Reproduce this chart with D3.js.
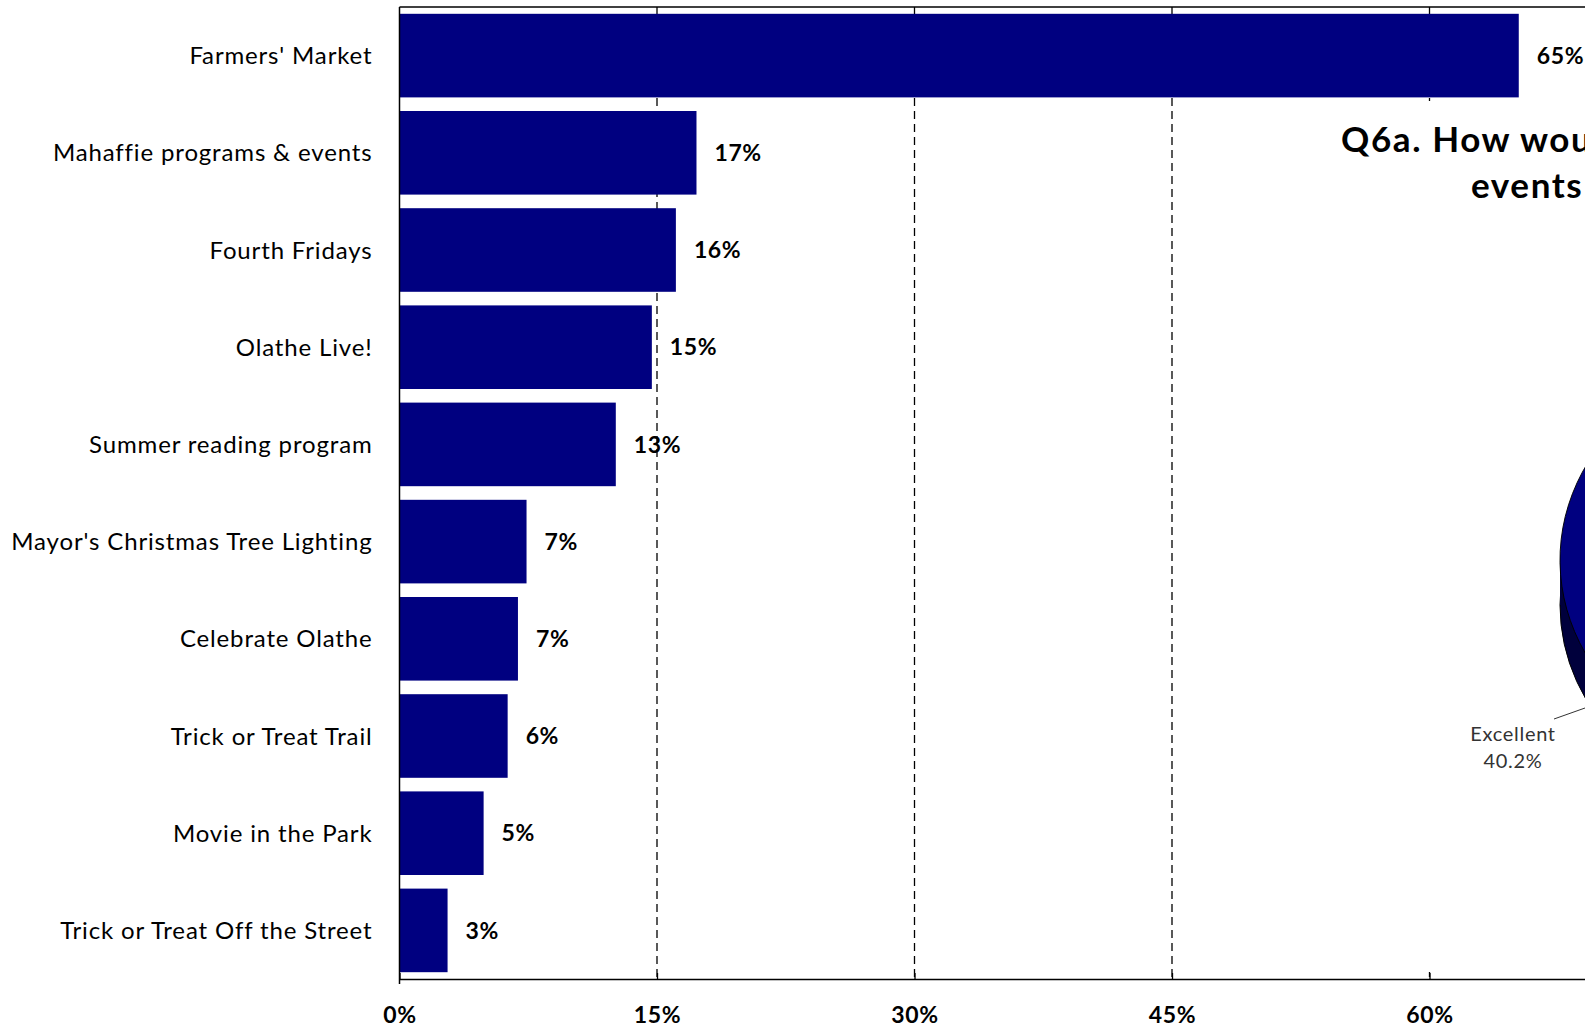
<!DOCTYPE html>
<html>
<head>
<meta charset="utf-8">
<script src="https://cdn.jsdelivr.net/npm/d3@7"></script>
<style>
  body { margin: 0; background: #fff; }
  svg { display: block; font-family: Lato, "Open Sans", sans-serif; }
</style>
</head>
<body>
<div class="chart"></div>
<script>
var svgWidth = 1585;
var svgHeight = 1028;

// Data
var categories = ["Farmers' Market", "Mahaffie programs & events", "Fourth Fridays", "Olathe Live!",
  "Summer reading program", "Mayor's Christmas Tree Lighting", "Celebrate Olathe",
  "Trick or Treat Trail", "Movie in the Park", "Trick or Treat Off the Street"];
var values = [65.2, 17.3, 16.1, 14.7, 12.6, 7.4, 6.9, 6.3, 4.9, 2.8];
var tickValues = [0, 15, 30, 45, 60];
var gridValues = [15, 30, 45, 60];

// the overlapping pie chart (only its left edge shows)
var pieLabels = ["Excellent"];
var pieValues = [40.2];
var titleLines = ["Q6a. How would", "events"];

var margin = { top: 7, left: 399.5 };
var plotHeight = 972;
var plotWidth = 1287.5;

var svg = d3
  .select(".chart")
  .append("svg")
  .attr("width", svgWidth)
  .attr("height", svgHeight);

var chart = svg.append("g")
  .attr("transform", "translate(" + margin.left + "," + margin.top + ")");

var xScale = d3.scaleLinear().domain([0, 75]).range([0, plotWidth]);
var yScale = d3.scaleBand()
  .domain(categories)
  .range([0, plotHeight])
  .paddingInner(0.14)
  .paddingOuter(0.07);

// dashed grid lines
chart.selectAll(".grid")
  .data(gridValues)
  .enter()
  .append("line")
  .attr("class", "grid")
  .attr("x1", function(d) { return xScale(d); })
  .attr("x2", function(d) { return xScale(d); })
  .attr("y1", 0)
  .attr("y2", plotHeight)
  .attr("stroke", "#000")
  .attr("stroke-width", 1.3)
  .attr("stroke-dasharray", "8,5");

// bars
chart.selectAll(".bar")
  .data(values)
  .enter()
  .append("rect")
  .attr("class", "bar")
  .attr("x", 0)
  .attr("y", function(d, i) { return yScale(categories[i]); })
  .attr("width", function(d) { return xScale(d); })
  .attr("height", yScale.bandwidth())
  .attr("fill", "#000080");

// value labels
chart.selectAll(".val")
  .data(values)
  .enter()
  .append("text")
  .attr("class", "val")
  .attr("x", function(d) { return xScale(d) + 18; })
  .attr("y", function(d, i) { return yScale(categories[i]) + yScale.bandwidth() / 2; })
  .attr("dy", "0.36em")
  .style("font-size", "23px")
  .style("letter-spacing", "0.6px")
  .style("font-weight", "bold")
  .text(function(d) { return Math.round(d) + "%"; });

// category labels
chart.selectAll(".cat")
  .data(categories)
  .enter()
  .append("text")
  .attr("class", "cat")
  .attr("x", -27)
  .attr("y", function(d) { return yScale(d) + yScale.bandwidth() / 2; })
  .attr("dy", "0.36em")
  .attr("text-anchor", "end")
  .style("font-size", "24px")
  .style("letter-spacing", "0.85px")
  .text(function(d) { return d; });

// overlapping chart box hides the right part of the grid
svg.append("rect")
  .attr("x", 1250)
  .attr("y", 101)
  .attr("width", 335)
  .attr("height", 871)
  .attr("fill", "#fff");

// bottom axis
var bottomAxis = d3.axisBottom(xScale)
  .tickValues(tickValues)
  .tickSizeInner(-6)
  .tickSizeOuter(0)
  .tickFormat(function(d) { return d + "%"; });

var xAxisG = chart.append("g")
  .attr("transform", "translate(0," + plotHeight + ")")
  .call(bottomAxis);
xAxisG.select(".domain").attr("stroke", "#000").attr("stroke-width", 1.5);
xAxisG.selectAll(".tick line").attr("stroke", "#000").attr("stroke-width", 1.3);
xAxisG.selectAll(".tick text")
  .attr("y", 44)
  .attr("dy", 0)
  .attr("fill", "#000")
  .style("font-size", "23px")
  .style("letter-spacing", "0.6px")
  .style("font-weight", "bold")
  .style("font-family", "Lato, sans-serif");

// top border and left axis line
chart.append("line")
  .attr("x1", 0).attr("x2", plotWidth)
  .attr("y1", 0).attr("y2", 0)
  .attr("stroke", "#000").attr("stroke-width", 1.5);
chart.append("line")
  .attr("x1", 0).attr("x2", 0)
  .attr("y1", 0).attr("y2", plotHeight + 5)
  .attr("stroke", "#000").attr("stroke-width", 1.5);

// title of the overlapping chart
svg.append("text")
  .attr("x", 1341).attr("y", 152)
  .style("font-size", "35px")
  .style("letter-spacing", "1.6px")
  .style("font-weight", "bold")
  .text(titleLines[0]);
svg.append("text")
  .attr("x", 1471).attr("y", 198)
  .style("font-size", "35px")
  .style("letter-spacing", "1.6px")
  .style("font-weight", "bold")
  .text(titleLines[1]);

// 3D pie: side band then top face, drawn as a stretched arc
var pieR = 200;
var pieCx = 1780, pieCy = 560, depth = 45;
var pie = d3.pie().sort(null).value(function(d) { return d; });
var slices = pie(pieValues.concat([100 - pieValues[0]]));
var arc = d3.arc().innerRadius(0).outerRadius(pieR);

var pieG = svg.append("g");
pieG.append("ellipse")
  .attr("cx", pieCx).attr("cy", pieCy + depth)
  .attr("rx", 220).attr("ry", pieR)
  .attr("fill", "#00003c")
  .attr("stroke", "#000").attr("stroke-width", 1);
pieG.append("rect")
  .attr("x", pieCx - 220).attr("y", pieCy)
  .attr("width", 440).attr("height", depth)
  .attr("fill", "#00003c");
pieG.selectAll(".slice")
  .data(slices)
  .enter()
  .append("path")
  .attr("class", "slice")
  .attr("transform", "translate(" + pieCx + "," + pieCy + ") scale(1.1,1)")
  .attr("d", arc)
  .attr("fill", "#000080")
  .attr("stroke", "#000")
  .attr("stroke-width", 0.9);

// leader line and label for the visible slice
svg.append("line")
  .attr("x1", 1554).attr("y1", 719)
  .attr("x2", 1585).attr("y2", 708)
  .attr("stroke", "#333").attr("stroke-width", 1);
svg.append("text")
  .attr("x", 1513).attr("y", 741)
  .attr("text-anchor", "middle")
  .style("font-size", "20px")
  .style("letter-spacing", "0.7px")
  .attr("fill", "#333")
  .text(pieLabels[0]);
svg.append("text")
  .attr("x", 1513).attr("y", 768)
  .attr("text-anchor", "middle")
  .style("font-size", "20px")
  .style("letter-spacing", "0.7px")
  .attr("fill", "#333")
  .text(pieValues[0].toFixed(1) + "%");
</script>
</body>
</html>
